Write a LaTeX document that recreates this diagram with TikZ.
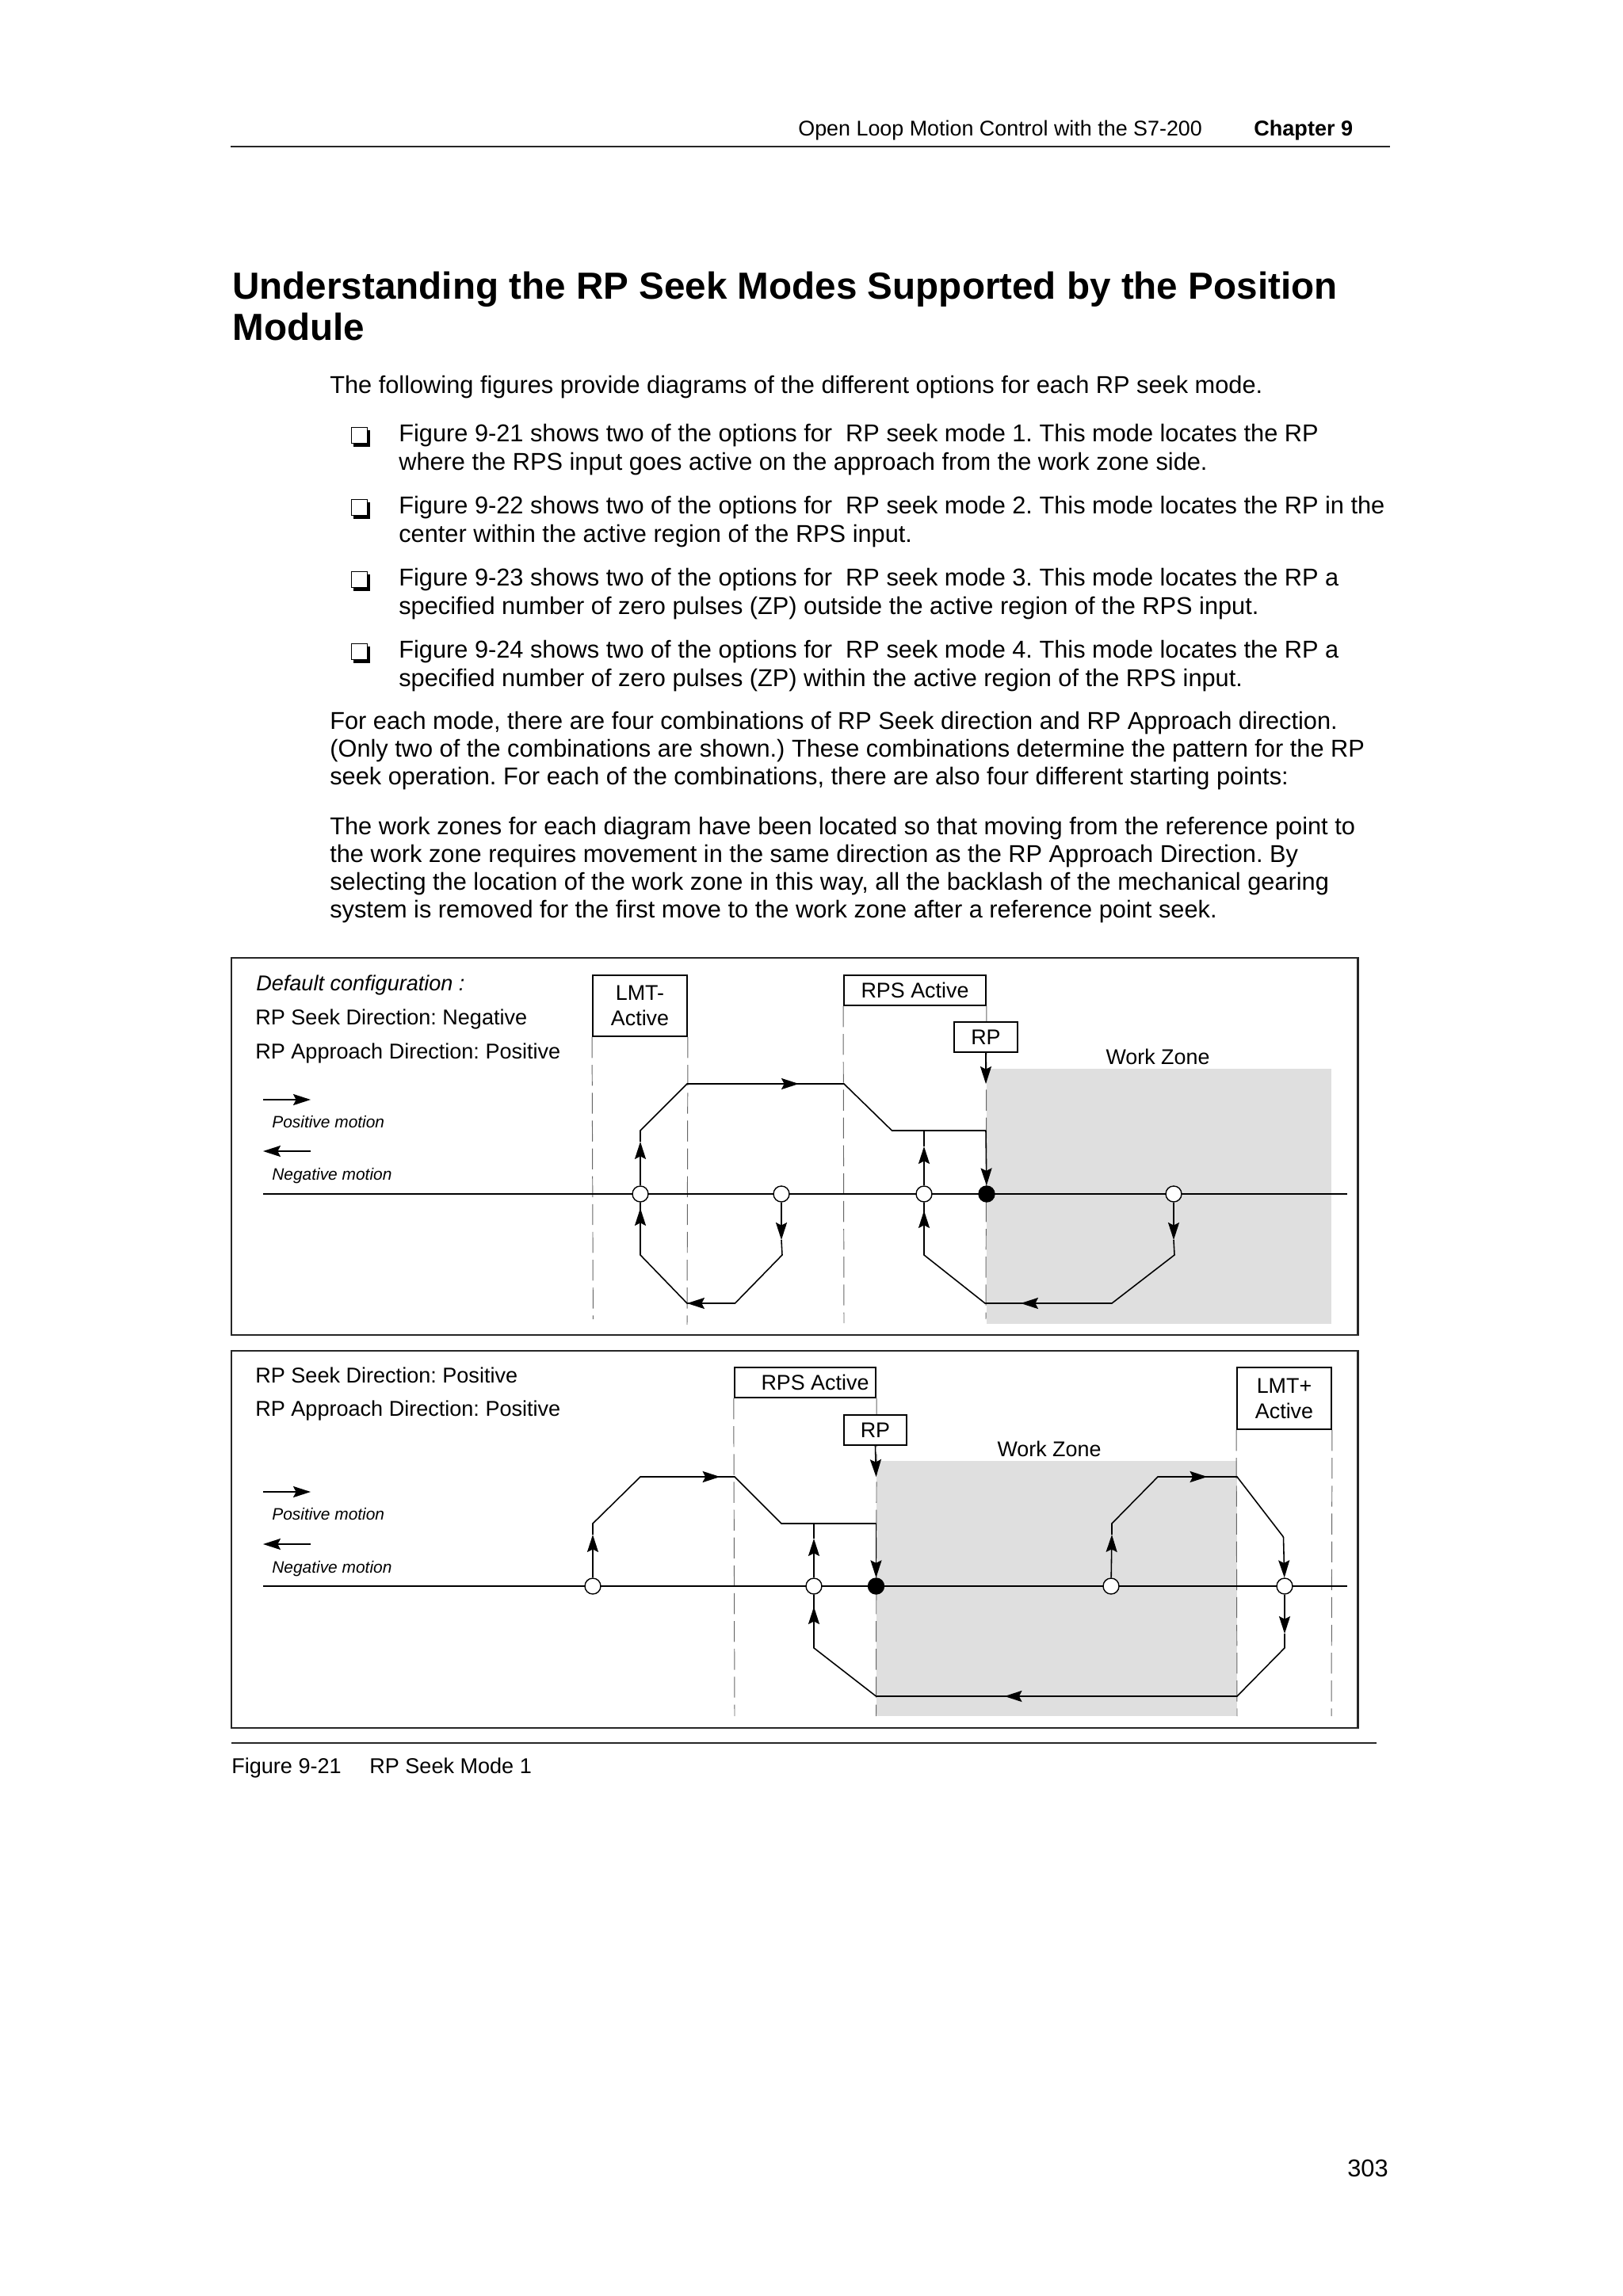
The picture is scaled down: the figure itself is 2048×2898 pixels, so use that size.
\documentclass[tikz,border=0pt]{standalone}
\usepackage{fontspec}
\setmainfont{Liberation Sans}
\frenchspacing
\usetikzlibrary{arrows.meta}
\tikzset{
  x=0.02cm,y=-0.02cm,
  body/.style={anchor=base west,inner sep=0pt,font=\fontsize{17.5}{20}\selectfont},
  head/.style={anchor=base west,inner sep=0pt,font=\fontsize{15.3}{18}\selectfont},
  headb/.style={anchor=base west,inner sep=0pt,font=\fontsize{15.4}{18}\selectfont\bfseries},
  titletext/.style={anchor=base west,inner sep=0pt,font=\fontsize{27.1}{32}\selectfont\bfseries},
  lab/.style={anchor=base west,inner sep=0pt,font=\fontsize{15.4}{18}\selectfont},
  labi/.style={anchor=base west,inner sep=0pt,font=\fontsize{15.4}{18}\selectfont\itshape},
  labc/.style={anchor=base,inner sep=0pt,font=\fontsize{15.3}{18}\selectfont},
  tiny/.style={anchor=base west,inner sep=0pt,font=\fontsize{11.9}{14}\selectfont\itshape},
  box/.style={draw=black,fill=white,line width=1.1pt,inner sep=0pt,align=center,
    font=\fontsize{15.3}{18.2}\selectfont},
  frame/.style={draw=black!85,line width=1.2pt},
  rulel/.style={draw=black!85,line width=1pt},
  zone/.style={fill=black!12.5,draw=none},
  guide/.style={draw=black!60,line width=0.55pt,dash pattern=on 15pt off 5pt},
  axisl/.style={draw=black,line width=0.9pt},
  track/.style={draw=black,line width=0.9pt,line join=miter},
  tip/.style={draw=black,line width=0.9pt,-{Stealth[length=12.5pt,width=8pt,inset=2pt]}},
  open/.style={circle,draw=black,fill=white,line width=0.8pt,minimum size=0.4cm,inner sep=0pt},
  solid dot/.style={circle,draw=black,fill=black,line width=0.8pt,minimum size=0.4cm,inner sep=0pt},
}
\begin{document}
\begin{tikzpicture}
\useasboundingbox (0,0) rectangle (2048,2898);
\fill[white] (0,0) rectangle (2048,2898);

% header
\node[head] (hd1) at (1007,171) {Open Loop Motion Control with the S7-200};
\node[headb] (hd2) at (1582,171) {Chapter 9};
\coordinate (hl) at (291,185); \coordinate (hr) at (1754,185);
\draw[rulel] (hl) -- (hr);

% title
\node[titletext] (t1) at (293,377) {Understanding the RP Seek Modes Supported by the Position};
\node[titletext] (t2) at (293,429) {Module};

% body
\node[body] (p0) at (416,496) {The following figures provide diagrams of the different options for each RP seek mode.};
\foreach \y in {539,630,721,812}{
  \fill[black] (446,\y+4) rectangle (467,\y+25);
  \filldraw[fill=white,draw=black,line width=0.5pt] (443,\y) rectangle (463,\y+20);
}
\node[body] (b1a) at (503,557) {Figure 9-21 shows two of the options for\ \ RP seek mode 1. This mode locates the RP};
\node[body] (b1b) at (503,593) {where the RPS input goes active on the approach from the work zone side.};
\node[body] (b2a) at (503,648) {Figure 9-22 shows two of the options for\ \ RP seek mode 2. This mode locates the RP in the};
\node[body] (b2b) at (503,684) {center within the active region of the RPS input.};
\node[body] (b3a) at (503,739) {Figure 9-23 shows two of the options for\ \ RP seek mode 3. This mode locates the RP a};
\node[body] (b3b) at (503,775) {specified number of zero pulses (ZP) outside the active region of the RPS input.};
\node[body] (b4a) at (503,830) {Figure 9-24 shows two of the options for\ \ RP seek mode 4. This mode locates the RP a};
\node[body] (b4b) at (503,866) {specified number of zero pulses (ZP) within the active region of the RPS input.};
\node[body] (p1a) at (416,920) {For each mode, there are four combinations of RP Seek direction and RP Approach direction.};
\node[body] (p1b) at (416,955) {(Only two of the combinations are shown.) These combinations determine the pattern for the RP};
\node[body] (p1c) at (416,990) {seek operation. For each of the combinations, there are also four different starting points:};
\node[body] (p2a) at (416,1053) {The work zones for each diagram have been located so that moving from the reference point to};
\node[body] (p2b) at (416,1088) {the work zone requires movement in the same direction as the RP Approach Direction. By};
\node[body] (p2c) at (416,1123) {selecting the location of the work zone in this way, all the backlash of the mechanical gearing};
\node[body] (p2d) at (416,1158) {system is removed for the first move to the work zone after a reference point seek.};

% ---------- panel 1 ----------
\draw[frame] (292,1209) rectangle (1713.5,1685);
\fill[zone] (1245,1349) rectangle (1680,1671);
\node[labi] (a0) at (323,1250) {Default configuration :};
\node[lab] (a1) at (322,1293) {RP Seek Direction: Negative};
\node[lab] (a2) at (322,1336) {RP Approach Direction: Positive};
\node[labc] (awz) at (1461,1343) {Work Zone};

\coordinate (apl) at (332,1388); \coordinate (apr) at (392,1388);
\draw[tip] (apl) -- (apr);
\node[tiny] (apt) at (343,1423) {Positive motion};
\coordinate (anl) at (332,1453); \coordinate (anr) at (392,1453);
\draw[tip] (anr) -- (anl);
\node[tiny] (ant) at (343,1489) {Negative motion};

\node[box,minimum width=2.38cm,minimum height=1.54cm] (almt) at (807.5,1269.5) {LMT-\\Active};
\node[box,minimum width=3.58cm,minimum height=0.76cm] (arps) at (1154.5,1250) {RPS Active};

\coordinate (ag1) at (748.4,1665); \coordinate (ag2) at (867,1672);
\coordinate (ag3) at (1065,1670); \coordinate (ag4) at (1244,1665);
\draw[guide] (almt.south west) -- (ag1);
\draw[guide] (almt.south east) -- (ag2);
\draw[guide] (arps.south west) -- (ag3);
\draw[guide] (arps.south east) -- (ag4);

\node[box,minimum width=1.6cm,minimum height=0.76cm] (arp) at (1244,1309) {RP};

\coordinate (aaxl) at (332,1507); \coordinate (aaxr) at (1700,1507);
\draw[axisl] (aaxl) -- (aaxr);
\node[open] (ac1) at (808,1507) {};
\node[open] (ac2) at (986,1507) {};
\node[open] (ac3) at (1166,1507) {};
\node[solid dot] (ac4) at (1245,1507) {};
\node[open] (ac5) at (1481,1507) {};

\coordinate (au1) at (808,1441); \coordinate (au2) at (808,1427);
\coordinate (au3) at (867,1368); \coordinate (au4) at (1008,1368);
\coordinate (au5) at (1065,1368); \coordinate (au6) at (1125.5,1427);
\coordinate (au7) at (1244,1427);
\coordinate (au8) at (1166,1447); \coordinate (au9) at (1166,1427);
\coordinate (arpt) at (1244,1368);
\draw[tip] (ac1) -- (au1);
\draw[track] (au1) -- (au2) -- (au3) -- (au5) -- (au6) -- (au7);
\draw[tip] (au3) -- (au4);
\draw[tip] (au7) -- (ac4);
\draw[tip] (ac3) -- (au8);
\draw[track] (au8) -- (au9);
\draw[tip] (arp.south) -- (arpt);

\coordinate (ad1) at (808,1525); \coordinate (ad2) at (808,1584);
\coordinate (ad3) at (867,1645); \coordinate (ad4) at (927.5,1645);
\coordinate (ad5) at (987,1584); \coordinate (ad6) at (986,1565);
\draw[track] (ad6) -- (ad5) -- (ad4) -- (ad3) -- (ad2) -- (ad1) -- (ac1);
\draw[tip] (ad2) -- (ad1);
\draw[tip] (ac2) -- (ad6);
\draw[tip] (ad4) -- (ad3);

\coordinate (ae1) at (1166,1528); \coordinate (ae2) at (1166,1584);
\coordinate (ae3) at (1243,1645); \coordinate (ae4) at (1403,1645);
\coordinate (ae5) at (1482,1584); \coordinate (ae6) at (1481,1565);
\coordinate (ae7) at (1288,1645);
\draw[track] (ae6) -- (ae5) -- (ae4) -- (ae3) -- (ae2) -- (ae1) -- (ac3);
\draw[tip] (ae2) -- (ae1);
\draw[tip] (ac5) -- (ae6);
\draw[tip] (ae4) -- (ae7);

% ---------- panel 2 ----------
\draw[frame] (292,1705) rectangle (1713.5,2181);
\fill[zone] (1106,1844) rectangle (1561,2166);
\node[lab] (b1) at (322,1745) {RP Seek Direction: Positive};
\node[lab] (b2) at (322,1787.5) {RP Approach Direction: Positive};
\node[labc] (bwz) at (1324,1838) {Work Zone};

\coordinate (bpl) at (332,1883); \coordinate (bpr) at (392,1883);
\draw[tip] (bpl) -- (bpr);
\node[tiny] (bpt) at (343,1918.5) {Positive motion};
\coordinate (bnl) at (332,1949); \coordinate (bnr) at (392,1949);
\draw[tip] (bnr) -- (bnl);
\node[tiny] (bnt) at (343,1985) {Negative motion};

\node[box,minimum width=3.57cm,minimum height=0.76cm] (brps) at (1016,1745) {\hspace*{0.5cm}RPS Active};
\node[box,minimum width=2.38cm,minimum height=1.56cm] (blmt) at (1620.5,1765) {LMT+\\Active};

\coordinate (bg1) at (927,2166); \coordinate (bg2) at (1105.5,2166);
\coordinate (bg3) at (1561,2166); \coordinate (bg4) at (1680,2166);
\draw[guide] (brps.south west) -- (bg1);
\draw[guide] (brps.south east) -- (bg2);
\draw[guide] (blmt.south west) -- (bg3);
\draw[guide] (blmt.south east) -- (bg4);

\node[box,minimum width=1.58cm,minimum height=0.76cm] (brp) at (1104.5,1805) {RP};

\coordinate (baxl) at (332,2002); \coordinate (baxr) at (1700,2002);
\draw[axisl] (baxl) -- (baxr);
\node[open] (bc1) at (748,2002) {};
\node[open] (bc2) at (1027,2002) {};
\node[solid dot] (bc3) at (1105.5,2002) {};
\node[open] (bc4) at (1402,2002) {};
\node[open] (bc5) at (1621,2002) {};

\coordinate (bu1) at (748,1937); \coordinate (bu2) at (748,1923);
\coordinate (bu3) at (808,1864); \coordinate (bu4) at (908.6,1864);
\coordinate (bu5) at (927,1864); \coordinate (bu6) at (986,1923);
\coordinate (bu7) at (1105.5,1923);
\coordinate (bu8) at (1027,1942); \coordinate (bu9) at (1027,1923);
\coordinate (brpt) at (1105.5,1864);
\draw[tip] (bc1) -- (bu1);
\draw[track] (bu1) -- (bu2) -- (bu3) -- (bu5) -- (bu6) -- (bu7);
\draw[tip] (bu3) -- (bu4);
\draw[tip] (bu7) -- (bc3);
\draw[tip] (bc2) -- (bu8);
\draw[track] (bu8) -- (bu9);
\draw[tip] (brp.south) -- (brpt);

\coordinate (bd1) at (1027,2028); \coordinate (bd2) at (1027,2080);
\coordinate (bd3) at (1105.5,2141); \coordinate (bd4) at (1561,2141);
\coordinate (bd5) at (1621,2080); \coordinate (bd6) at (1621,2062);
\coordinate (bd7) at (1267.5,2141);
\draw[track] (bd6) -- (bd5) -- (bd4) -- (bd3) -- (bd2) -- (bd1) -- (bc2);
\draw[tip] (bd2) -- (bd1);
\draw[tip] (bc5) -- (bd6);
\draw[tip] (bd4) -- (bd7);

\coordinate (bf1) at (1403,1937); \coordinate (bf2) at (1403,1923);
\coordinate (bf3) at (1461,1864); \coordinate (bf4) at (1523.5,1864);
\coordinate (bf5) at (1561,1864); \coordinate (bf6) at (1619.5,1940);
\draw[tip] (bc4) -- (bf1);
\draw[track] (bf1) -- (bf2) -- (bf3) -- (bf5) -- (bf6);
\draw[tip] (bf3) -- (bf4);
\draw[tip] (bf6) -- (bc5);

% caption
\coordinate (cl) at (292,2200); \coordinate (cr) at (1737,2200);
\draw[rulel] (cl) -- (cr);
\node[lab] (cap1) at (292,2238.5) {Figure 9-21};
\node[lab] (cap2) at (466,2238.5) {RP Seek Mode 1};

\node[anchor=base east,inner sep=0pt,font=\fontsize{17.5}{20}\selectfont] (pg) at (1752,2747) {303};
\end{tikzpicture}
\end{document}
